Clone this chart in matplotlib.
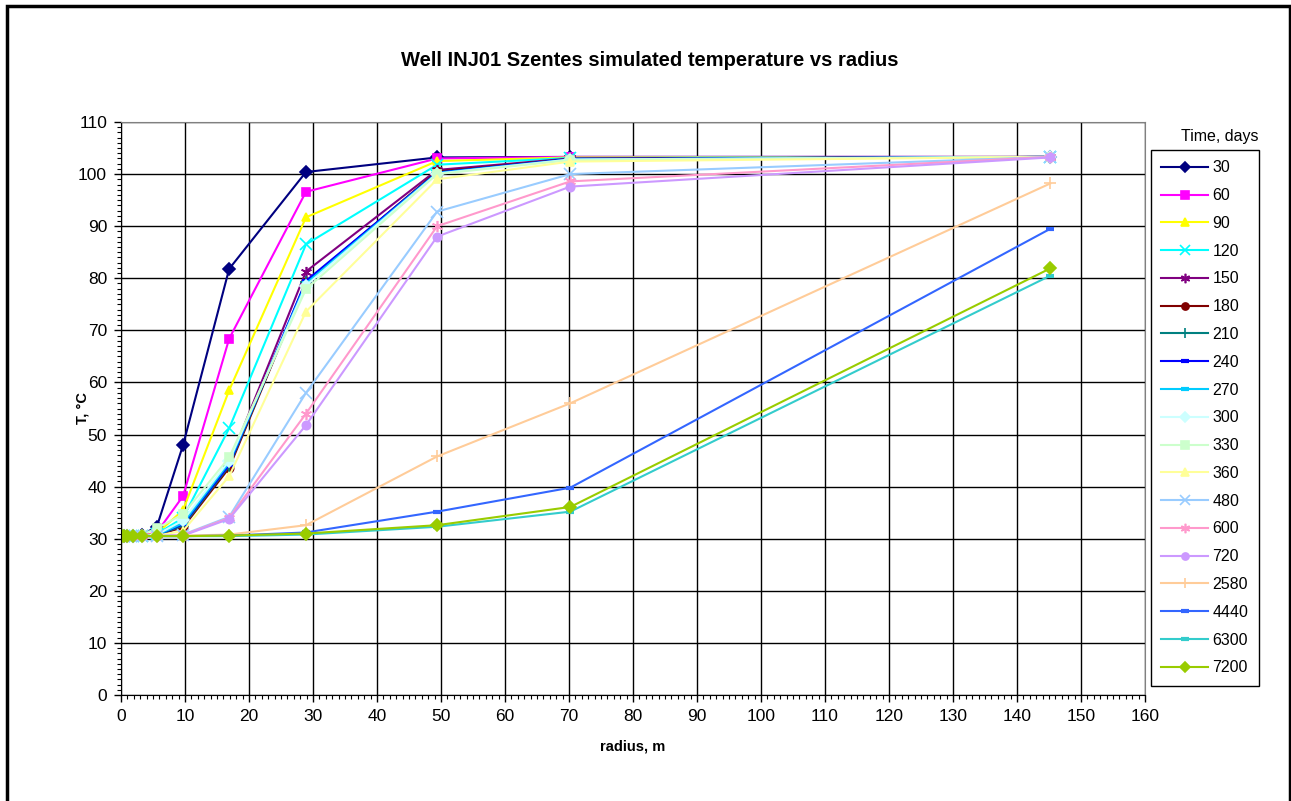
import matplotlib
matplotlib.use('Agg')
import matplotlib.pyplot as plt
from matplotlib.ticker import MultipleLocator
from matplotlib.patches import Rectangle

plt.rcParams['font.family'] = ['Liberation Sans', 'DejaVu Sans']

# radius of the grid blocks, m
radius = [0.1, 0.4, 0.9, 1.8, 3.3, 5.6, 9.7, 16.9, 28.9, 49.4, 70.2, 145.2]

# time steps, days
times = ['30', '60', '90', '120', '150', '180', '210', '240', '270', '300',
         '330', '360', '480', '600', '720', '2580', '4440', '6300', '7200']

# simulated temperature, C (one list per time step)
t30 = [30.5, 30.5, 30.5, 30.6, 30.8, 32.3, 48.0, 81.8, 100.4, 103.2, 103.3, 103.3]
t60 = [30.5, 30.5, 30.5, 30.5, 30.6, 31.2, 38.2, 68.4, 96.6, 103.0, 103.3, 103.3]
t90 = [30.5, 30.5, 30.5, 30.5, 30.6, 31.0, 35.5, 58.5, 91.7, 102.5, 103.2, 103.3]
t120 = [30.5, 30.5, 30.5, 30.5, 30.5, 30.9, 34.0, 51.2, 86.5, 101.8, 103.1, 103.3]
t150 = [30.5, 30.5, 30.5, 30.5, 30.5, 30.8, 33.0, 44.6, 81.3, 100.8, 103.0, 103.3]
t180 = [30.5, 30.5, 30.5, 30.5, 30.5, 30.7, 32.2, 43.6, 79.2, 100.5, 102.9, 103.3]
t210 = [30.5, 30.5, 30.5, 30.5, 30.5, 30.7, 32.5, 44.0, 79.3, 100.3, 102.9, 103.3]
t240 = [30.5, 30.5, 30.5, 30.5, 30.5, 30.7, 32.8, 44.2, 79.5, 100.3, 102.9, 103.3]
t270 = [30.5, 30.5, 30.5, 30.5, 30.5, 30.7, 33.0, 44.6, 79.0, 100.2, 102.8, 103.3]
t300 = [30.5, 30.5, 30.5, 30.5, 30.5, 30.8, 33.5, 45.0, 78.6, 100.1, 102.8, 103.3]
t330 = [30.5, 30.5, 30.5, 30.6, 30.8, 32.0, 34.7, 45.6, 77.9, 100.0, 102.7, 103.3]
t360 = [30.5, 30.5, 30.5, 30.5, 30.5, 30.6, 31.5, 42.0, 73.6, 99.0, 102.4, 103.3]
t480 = [30.5, 30.5, 30.5, 30.5, 30.5, 30.5, 30.8, 34.2, 58.0, 92.8, 100.0, 103.3]
t600 = [30.5, 30.5, 30.5, 30.5, 30.5, 30.5, 30.7, 34.0, 54.0, 90.0, 98.6, 103.3]
t720 = [30.5, 30.5, 30.5, 30.5, 30.5, 30.5, 30.6, 33.8, 51.8, 88.0, 97.6, 103.2]
t2580 = [30.5, 30.5, 30.5, 30.5, 30.5, 30.5, 30.6, 30.8, 32.6, 45.8, 56.0, 98.2]
t4440 = [30.5, 30.5, 30.5, 30.5, 30.5, 30.5, 30.5, 30.6, 31.2, 35.2, 39.8, 89.5]
t6300 = [30.5, 30.5, 30.5, 30.5, 30.5, 30.5, 30.5, 30.5, 30.8, 32.3, 35.2, 80.5]
t7200 = [30.5, 30.5, 30.5, 30.5, 30.5, 30.5, 30.5, 30.6, 31.0, 32.6, 36.1, 81.9]

temps = [t30, t60, t90, t120, t150, t180, t210, t240, t270, t300,
         t330, t360, t480, t600, t720, t2580, t4440, t6300, t7200]

# excel-like colours and markers
colors = ['#000080', '#FF00FF', '#FFFF00', '#00FFFF', '#800080', '#800000',
          '#008080', '#0000FF', '#00CCFF', '#CCFFFF', '#CCFFCC', '#FFFF99',
          '#99CCFF', '#FF99CC', '#CC99FF', '#FFCC99', '#3366FF', '#33CCCC',
          '#99CC00']
star = (6, 2, 0)
markers = ['D', 's', '^', 'x', star, 'o', '+', '_', '_', 'D',
           's', '^', 'x', star, 'o', '+', '_', '_', 'D']

fig = plt.figure(figsize=(12.91, 8.01), dpi=100)
ax = fig.add_axes([121 / 1291, 1 - 695 / 801, (1145 - 121) / 1291, (695 - 122) / 801])

handles = []
for t, y, c, m in zip(times, temps, colors, markers):
    ms = 6
    mew = 1.2
    if m == '_':
        ms, mew = 6, 3
    elif m in ('x', '+') or m == star:
        ms, mew = 8, 1.2
    h, = ax.plot(radius, y, color=c, marker=m, markersize=ms, markeredgewidth=mew,
                 markeredgecolor=c, markerfacecolor=c, linewidth=1.5, label=t)
    handles.append(h)

ax.set_xlim(0, 160)
ax.set_ylim(0, 110)
ax.xaxis.set_major_locator(MultipleLocator(10))
ax.yaxis.set_major_locator(MultipleLocator(10))
ax.xaxis.set_minor_locator(MultipleLocator(1))
ax.yaxis.set_minor_locator(MultipleLocator(1))
ax.tick_params(which='major', direction='out', length=5, width=1, labelsize=12.5, pad=5)
ax.tick_params(which='minor', direction='out', length=3, width=0.8)
ax.grid(True, which='major', color='black', linewidth=1)
ax.set_axisbelow(True)
for s in ax.spines.values():
    s.set_color('#808080')
ax.spines['left'].set_color('black')
ax.spines['bottom'].set_color('black')

ax.set_xlabel('radius, m', fontsize=10.5, fontweight='bold')
ax.set_ylabel('T, °C', fontsize=10.5, fontweight='bold')
ax.xaxis.set_label_coords(0.5, -0.077)
ax.yaxis.set_label_coords(-0.031, 0.5)
fig.text(0.503, 0.925, 'Well INJ01 Szentes simulated temperature vs radius',
         ha='center', va='center', fontsize=14.5, fontweight='bold')

leg = fig.legend(handles=handles, loc='upper left',
                 bbox_to_anchor=(1151 / 1291, 1 - 150 / 801), bbox_transform=fig.transFigure,
                 fontsize=11.5, labelspacing=0.8, handlelength=2.9, handletextpad=0.3,
                 borderpad=0.65, borderaxespad=0, markerscale=0.85,
                 fancybox=False, edgecolor='black', framealpha=1)
leg.get_frame().set_linewidth(1)
fig.text(1220 / 1291, 1 - 137 / 801, 'Time, days', ha='center', va='center', fontsize=11.5)

fig.patches.append(Rectangle((7 / 1291, -0.01), (1290 - 7) / 1291, 1 - 6 / 801 + 0.01,
                             transform=fig.transFigure, fill=False,
                             edgecolor='black', linewidth=2.5))

fig.savefig('out.png', dpi=100)
